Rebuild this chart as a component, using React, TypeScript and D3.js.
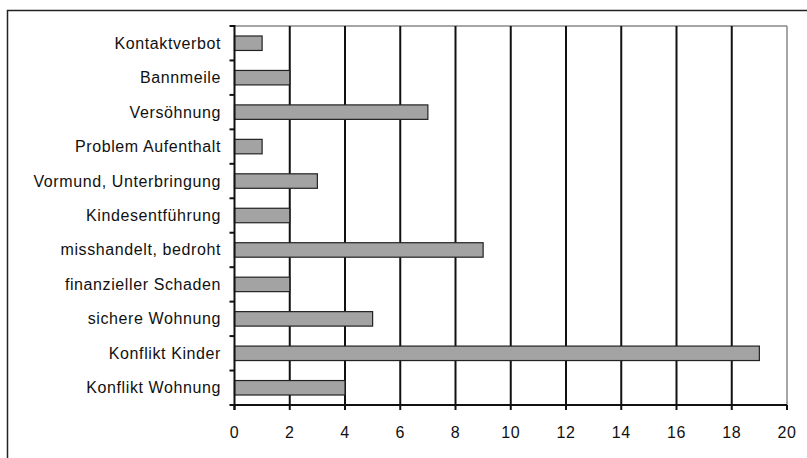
import React from "react";
import * as d3 from "d3";

const categories: string[] = [
    "Kontaktverbot",
    "Bannmeile",
    "Versöhnung",
    "Problem Aufenthalt",
    "Vormund, Unterbringung",
    "Kindesentführung",
    "misshandelt, bedroht",
    "finanzieller Schaden",
    "sichere Wohnung",
    "Konflikt Kinder",
    "Konflikt Wohnung",
];
const counts: number[] = [1, 2, 7, 1, 3, 2, 9, 2, 5, 19, 4];
const xTickValues: number[] = [0, 2, 4, 6, 8, 10, 12, 14, 16, 18, 20];

export default function App() {
    const width = 807;
    const height = 458;
    const plot = { left: 234.5, right: 787, top: 26, bottom: 405 };

    const x = d3.scaleLinear([0, 20], [plot.left, plot.right]);
    const y = d3.scaleBand(categories, [plot.top, plot.bottom]).paddingInner(0.58).paddingOuter(0.29);
    const step = y.step();
    // boundaries between categories, for the left-side ticks
    const bounds = d3.range(categories.length + 1).map(i => plot.top + i * step);

    const font = "'Liberation Sans', Arial, sans-serif";

    return <svg width={width} height={height} style={{ position: "absolute", left: 0, top: 0 }}>
        <rect x={0} y={0} width={width} height={height} fill="white" />
        {/* outer frame, cut by the picture edge */}
        <rect x={7.5} y={10.5} width={width + 10} height={height + 10} fill="none" stroke="#222" strokeWidth={1.5} />

        {/* plot border */}
        <line x1={plot.left} x2={plot.right} y1={plot.top} y2={plot.top} stroke="#888" strokeWidth={1.5} />
        <line x1={plot.right} x2={plot.right} y1={plot.top} y2={plot.bottom} stroke="#888" strokeWidth={1.5} />

        {/* gridlines */}
        {xTickValues.slice(1, -1).map(t => (
            <line key={t} x1={x(t)} x2={x(t)} y1={plot.top} y2={plot.bottom} stroke="#111" strokeWidth={2} />
        ))}

        {/* bars */}
        {categories.map((c, i) => (
            <rect key={c} x={x(0)} y={y(c)!} width={x(counts[i]) - x(0)} height={y.bandwidth()}
                fill="#a3a3a3" stroke="#222" strokeWidth={1.2} />
        ))}

        {/* y axis */}
        <line x1={plot.left} x2={plot.left} y1={plot.top - 1} y2={plot.bottom + 5} stroke="#111" strokeWidth={2} />
        {bounds.map((b, i) => (
            <line key={i} x1={plot.left - 5} x2={plot.left} y1={b} y2={b} stroke="#111" strokeWidth={2} />
        ))}
        {categories.map(c => (
            <text key={c} x={221} y={y(c)! + y.bandwidth() / 2} textAnchor="end" dominantBaseline="central"
                fontFamily={font} fontSize={16} letterSpacing={0.6} fill="#111">{c}</text>
        ))}

        {/* x axis */}
        <line x1={plot.left} x2={plot.right} y1={plot.bottom} y2={plot.bottom} stroke="#111" strokeWidth={2} />
        {xTickValues.map(t => (
            <g key={t}>
                <line x1={x(t)} x2={x(t)} y1={plot.bottom} y2={plot.bottom + 5} stroke="#111" strokeWidth={2} />
                <text x={x(t)} y={432} textAnchor="middle" dominantBaseline="central"
                    fontFamily={font} fontSize={16} letterSpacing={0.5} fill="#111">{t}</text>
            </g>
        ))}
    </svg>;
}
